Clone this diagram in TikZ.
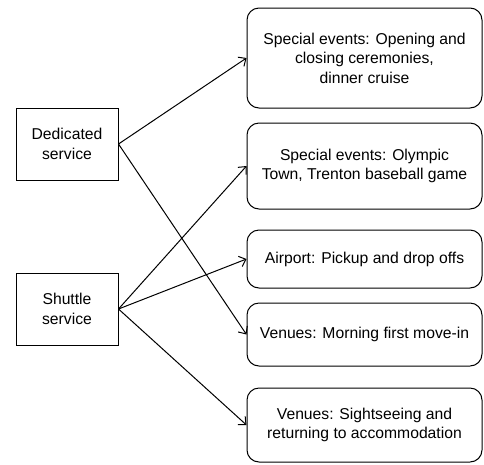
\documentclass[tikz,border=0pt]{standalone}
\usepackage{fontspec}
\setmainfont{Liberation Sans}
\usetikzlibrary{arrows.meta}
\begin{document}
\begin{tikzpicture}[x=1pt,y=-1pt,
  every node/.style={font=\fontsize{15.7}{19.5}\selectfont, align=center, inner sep=0pt},
  srcbox/.style={draw, line width=1pt, minimum width=102pt, minimum height=72pt},
  dstbox/.style={draw, line width=1pt, rounded corners=12pt, minimum width=235pt},
  conn/.style={line width=1pt, -{Straight Barb[length=6pt,width=11pt,line width=1pt]}}]
\useasboundingbox (0,0) rectangle (484,464);
\node[srcbox] (ded) at (67,144) {Dedicated\\service};
\node[srcbox] (shu) at (67,309) {Shuttle\\service};
\node[dstbox, minimum height=100pt] (b1) at (364.5,58) {Special events: Opening and\\closing ceremonies,\\dinner cruise};
\node[dstbox, minimum height=86pt] (b2) at (364.5,166) {Special events: Olympic\\Town, Trenton baseball game};
\node[dstbox, minimum height=58pt] (b3) at (364.5,259) {Airport: Pickup and drop offs};
\node[dstbox, minimum height=63pt] (b4) at (364.5,334.5) {Venues: Morning first move-in};
\node[dstbox, minimum height=74pt] (b5) at (364.5,425) {Venues: Sightseeing and\\returning to accommodation};
\draw[conn] (ded.east) -- (b1.west);
\draw[conn] (ded.east) -- (b4.west);
\draw[conn] (shu.east) -- (b2.west);
\draw[conn] (shu.east) -- (b3.west);
\draw[conn] (shu.east) -- (b5.west);
\end{tikzpicture}
\end{document}
